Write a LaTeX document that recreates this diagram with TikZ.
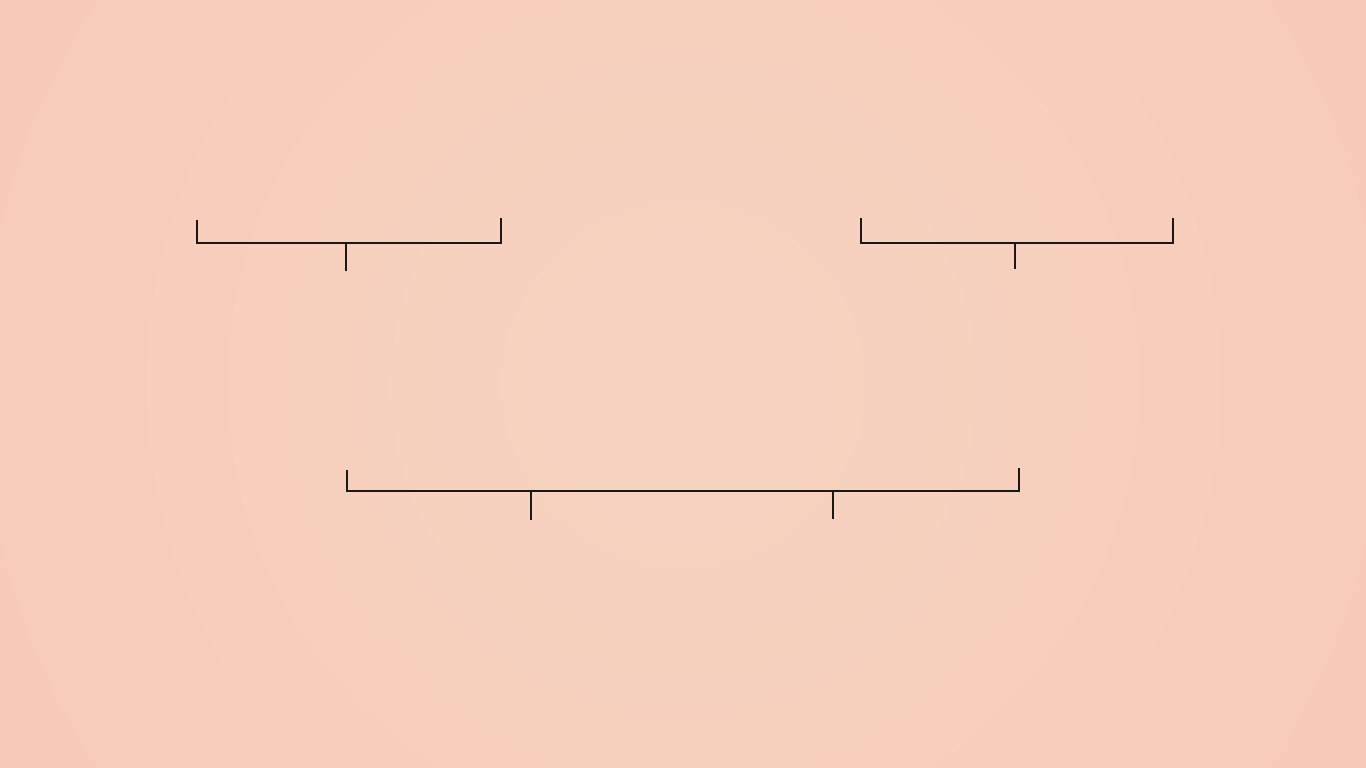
\documentclass[tikz,border=0pt]{standalone}
\definecolor{bgin}{RGB}{246,211,193}
\definecolor{bgout}{RGB}{248,196,175}
\pgfdeclareradialshading{bgshade}{\pgfpoint{0bp}{0bp}}{color(0bp)=(bgin); color(10bp)=(bgin!85!bgout); color(48bp)=(bgout); color(75bp)=(bgout)}
\tikzset{bracketline/.style={draw=black!90, line width=2.2pt, line cap=butt, line join=miter}}
\begin{document}
\begin{tikzpicture}[x=1pt,y=-1pt]
\useasboundingbox (0,0) rectangle (1366,768);
\begin{scope}
\clip (0,0) rectangle (1366,768);
\shade[shading=bgshade] (0,-299) rectangle (1366,1067);
\end{scope}
% bracket 1
\coordinate (a1) at (197,220);
\coordinate (a2) at (197,243);
\coordinate (a3) at (501,243);
\coordinate (a4) at (501,218);
\coordinate (as) at (346,243);
\coordinate (ae) at (346,271);
\draw[bracketline] (a1) -- (a2) -- (a3) -- (a4);
\draw[bracketline] (as) -- (ae);
% bracket 2
\coordinate (b1) at (861,218);
\coordinate (b2) at (861,243);
\coordinate (b3) at (1173,243);
\coordinate (b4) at (1173,218);
\coordinate (bs) at (1015,243);
\coordinate (be) at (1015,269);
\draw[bracketline] (b1) -- (b2) -- (b3) -- (b4);
\draw[bracketline] (bs) -- (be);
% bracket 3
\coordinate (c1) at (347,470);
\coordinate (c2) at (347,491);
\coordinate (c3) at (1019,491);
\coordinate (c4) at (1019,468);
\coordinate (cs1) at (531,491);
\coordinate (ce1) at (531,520);
\coordinate (cs2) at (833,491);
\coordinate (ce2) at (833,519);
\draw[bracketline] (c1) -- (c2) -- (c3) -- (c4);
\draw[bracketline] (cs1) -- (ce1);
\draw[bracketline] (cs2) -- (ce2);
\end{tikzpicture}
\end{document}
